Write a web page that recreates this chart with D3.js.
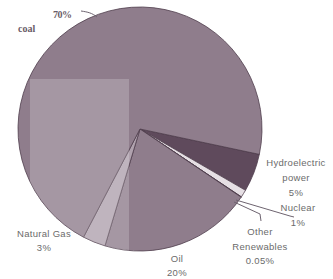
<!DOCTYPE html>
<html>
<head>
<meta charset="utf-8">
<script src="https://cdn.jsdelivr.net/npm/d3@7"></script>
<style>
  html, body { margin: 0; padding: 0; background: #fff; }
  svg { display: block; }
</style>
</head>
<body>
<svg id="chart" width="333" height="279"></svg>
<script>
// energy mix, percent
const categories = ['Hydroelectric power', 'Nuclear', 'Other Renewables', 'Oil', 'Natural Gas', 'coal']
const values = [5, 1, 0.05, 20, 3, 70]
const colors = ['#5f4a5c', '#e6dfe4', '#6a5667', '#8f7d8c', '#b0a2ae', '#8f7d8c']

// label lines, per slice
const labelLines = [
  ['Hydroelectric', 'power', '5%'],
  ['Nuclear', '1%'],
  ['Other', 'Renewables', '0.05%'],
  ['Oil', '20%'],
  ['Natural Gas', '3%'],
  ['coal', '70%']
]

const width = 333
const height = 279
const cx = 140
const cy = 129
const radius = 122

const svg = d3.select('#chart')

const data = categories.map((c, i) => ({ name: c, value: values[i], color: colors[i] }))

const start = (102 * Math.PI) / 180
const pie = d3
  .pie()
  .sort(null)
  .value((d) => d.value)
  .startAngle(start)
  .endAngle(start + 2 * Math.PI)

const arc = d3.arc().innerRadius(0).outerRadius(radius)

const g = svg.append('g').attr('transform', `translate(${cx},${cy})`)

g.append('clipPath')
  .attr('id', 'pieClip')
  .append('circle')
  .attr('r', radius)

g.selectAll('path')
  .data(pie(data))
  .join('path')
  .attr('d', arc)
  .attr('fill', (d) => d.data.color)
  .attr('stroke', '#4f3e4c')
  .attr('stroke-width', 0.8)
  .attr('stroke-linejoin', 'round')

// lighter patch over the left part of the pie (scan artifact)
g.append('rect')
  .attr('x', 30 - cx)
  .attr('y', 79 - cy)
  .attr('width', 99)
  .attr('height', radius * 2)
  .attr('fill', '#fff')
  .attr('opacity', 0.2)
  .attr('clip-path', 'url(#pieClip)')

// leader lines
const leaders = svg.append('g').attr('fill', 'none').attr('stroke', '#6e6470').attr('stroke-width', 1)
leaders.append('path').attr('d', 'M81,11 C88,12 92,13 97,17')
leaders.append('path').attr('d', 'M234,202 L260,214 L261,221')
leaders.append('path').attr('d', 'M236,200 L290,216 L294,217')

// labels
const labelPos = [
  { x: 296, y: 166, dy: 15 },
  { x: 298, y: 211, dy: 15 },
  { x: 260, y: 235, dy: 14.5 },
  { x: 177, y: 262, dy: 14 },
  { x: 44, y: 237, dy: 14 }
]

labelPos.forEach((p, i) => {
  const t = svg
    .append('text')
    .attr('font-family', 'Liberation Sans, Arial, sans-serif')
    .attr('font-size', 9.5)
    .attr('fill', '#6b6b6b')
    .attr('text-anchor', 'middle')
    .attr('letter-spacing', 0.3)
  t.selectAll('tspan')
    .data(labelLines[i])
    .join('tspan')
    .attr('x', p.x)
    .attr('y', (d, j) => p.y + j * p.dy)
    .text((d) => d)
})

// coal label sits apart
svg.append('text')
  .attr('x', 18)
  .attr('y', 32)
  .attr('font-family', 'Liberation Serif, serif')
  .attr('font-size', 10)
  .attr('font-weight', 'bold')
  .attr('fill', '#6a5c68')
  .text(labelLines[5][0])

svg.append('text')
  .attr('x', 53)
  .attr('y', 18)
  .attr('font-family', 'Liberation Serif, serif')
  .attr('font-size', 10)
  .attr('font-weight', 'bold')
  .attr('fill', '#6a5c68')
  .attr('letter-spacing', -0.5)
  .text(labelLines[5][1])
</script>
</body>
</html>
